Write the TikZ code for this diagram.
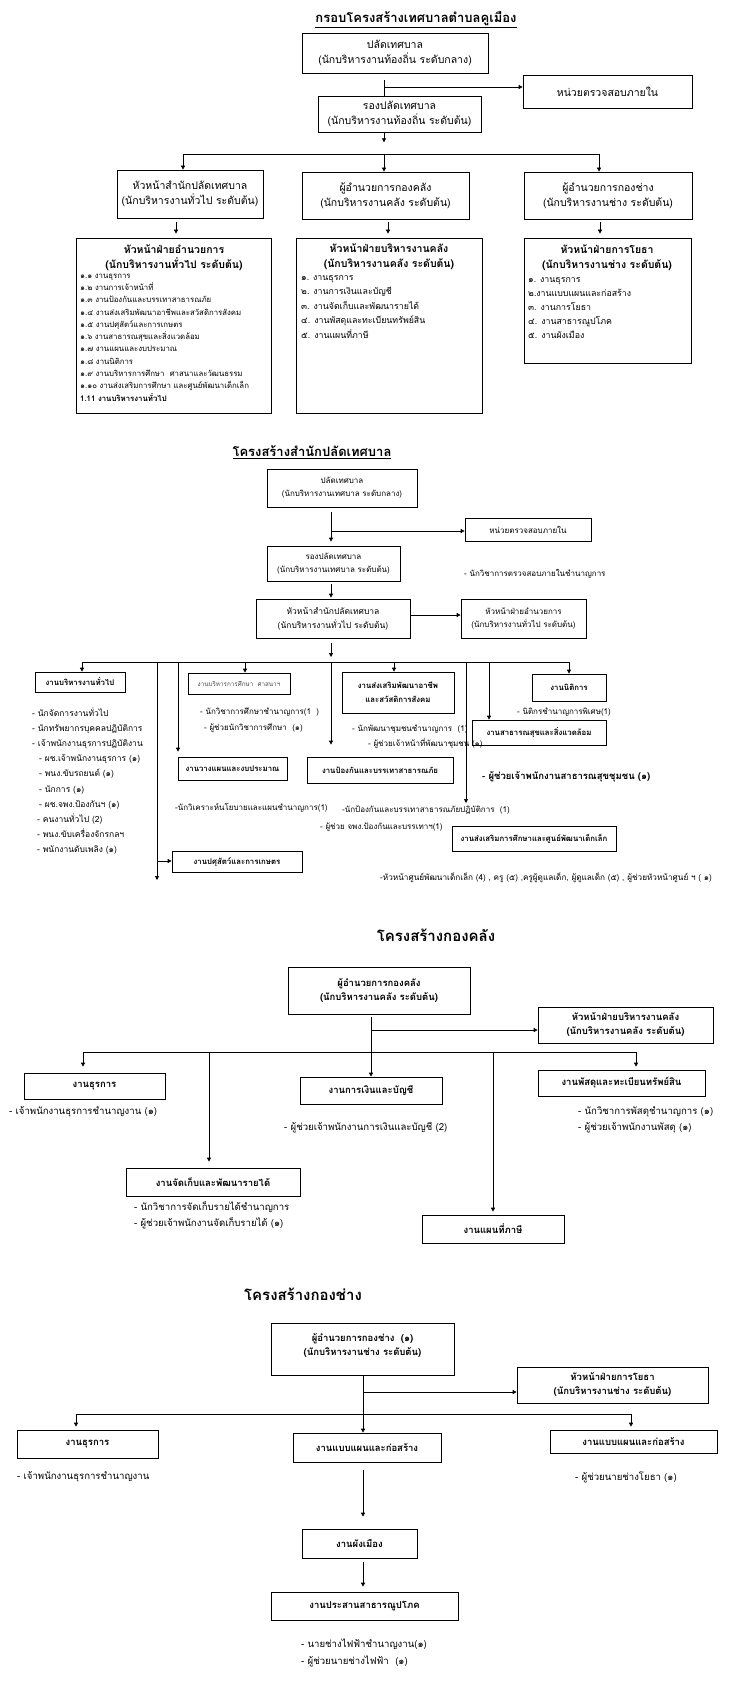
\documentclass[tikz,border=0pt]{standalone}
\usepackage{fontspec}
\setmainfont[Script=Thai]{Loma}
\usetikzlibrary{arrows.meta}
\tikzset{
  link/.style={line width=0.7pt},
  arr/.style={line width=0.7pt, -{Triangle[length=4pt,width=4pt]}},
  orgbox/.style={draw, line width=0.7pt, align=center, inner sep=1pt, font=\fontsize{10.5}{15}\selectfont},
  plainbox/.style={draw, line width=0.7pt},
  smallbox/.style={orgbox, font=\fontsize{8}{13}\selectfont},
  workbox/.style={orgbox, font=\fontsize{7.8}{14}\selectfont\bfseries},
  deptbox/.style={orgbox, font=\fontsize{9.5}{14}\selectfont\bfseries},
  listhead/.style={align=center, inner sep=0pt, font=\fontsize{10.5}{15}\selectfont\bfseries},
  staff/.style={anchor=west, align=left, inner sep=0pt, font=\fontsize{8}{16}\selectfont},
  heading/.style={inner sep=0pt, font=\fontsize{13}{15}\selectfont\bfseries},
}
\begin{document}
\begin{tikzpicture}[x=1pt,y=-1pt]
\useasboundingbox (0,0) rectangle (740,1685);

\node[heading] (titleMain) at (416,20) {\underline{กรอบโครงสร้างเทศบาลตำบลคูเมือง}};
\node[orgbox, minimum width=186, minimum height=40] (palad) at (395,53) {ปลัดเทศบาล\\(นักบริหารงานท้องถิ่น ระดับกลาง)};
\node[orgbox, minimum width=169, minimum height=33] (audit) at (607.5,91.5) {หน่วยตรวจสอบภายใน};
\node[orgbox, minimum width=163, minimum height=36] (rongpalad) at (399.5,114) {รองปลัดเทศบาล\\(นักบริหารงานท้องถิ่น ระดับต้น)};
\node[orgbox, minimum width=146, minimum height=48] (headOffice) at (190,194) {หัวหน้าสำนักปลัดเทศบาล\\(นักบริหารงานทั่วไป ระดับต้น)};
\node[orgbox, minimum width=167, minimum height=47] (headFinance) at (385.5,195.5) {ผู้อำนวยการกองคลัง\\(นักบริหารงานคลัง ระดับต้น)};
\node[orgbox, minimum width=168, minimum height=47] (headWorks) at (608,195.5) {ผู้อำนวยการกองช่าง\\(นักบริหารงานช่าง ระดับต้น)};
\node[plainbox, minimum width=195, minimum height=175] (secAdmin) at (173.5,325.5) {};
\node[plainbox, minimum width=186, minimum height=175] (secFinance) at (389,325.5) {};
\node[plainbox, minimum width=167, minimum height=125] (secWorks) at (607.5,300.5) {};
\node[listhead] (secAdminHead) at (174,257.5) {หัวหน้าฝ่ายอำนวยการ\\(นักบริหารงานทั่วไป ระดับต้น)};
\node[listhead] (secFinanceHead) at (389,257) {หัวหน้าฝ่ายบริหารงานคลัง\\(นักบริหารงานคลัง ระดับต้น)};
\node[listhead] (secWorksHead) at (607,258) {หัวหน้าฝ่ายการโยธา\\(นักบริหารงานช่าง ระดับต้น)};
\node[staff, font=\fontsize{7.8}{12.3}\selectfont] (secAdminList) at (80,337.5) {๑.๑ งานธุรการ\\๑.๒ งานการเจ้าหน้าที่\\๑.๓ งานป้องกันและบรรเทาสาธารณภัย\\๑.๔ งานส่งเสริมพัฒนาอาชีพและสวัสดิการสังคม\\๑.๕ งานปศุสัตว์และการเกษตร\\๑.๖ งานสาธารณสุขและสิ่งแวดล้อม\\๑.๗ งานแผนและงบประมาณ\\๑.๘ งานนิติการ\\๑.๙ งานบริหารการศึกษา\ \ ศาสนาและวัฒนธรรม\\๑.๑๐ งานส่งเสริมการศึกษา และศูนย์พัฒนาเด็กเล็ก\\\textbf{1.11 งานบริหารงานทั่วไป}};
\node[staff, font=\fontsize{8.8}{14.5}\selectfont] (secFinanceList) at (301,307) {๑. งานธุรการ\\๒. งานการเงินและบัญชี\\๓. งานจัดเก็บและพัฒนารายได้\\๔. งานพัสดุและทะเบียนทรัพย์สิน\\๕. งานแผนที่ภาษี};
\node[staff, font=\fontsize{8.8}{14}\selectfont] (secWorksList) at (528,308) {๑. งานธุรการ\\๒.งานแบบแผนและก่อสร้าง\\๓. งานการโยธา\\๔. งานสาธารณูปโภค\\๕. งานผังเมือง};

\coordinate (spineA) at (384,80);
\coordinate (tapAudit) at (384,87);
\coordinate (busA1) at (183,154);
\coordinate (busA2) at (384,154);
\coordinate (busA3) at (599,154);
\coordinate (dropA1) at (176,222);
\coordinate (dropA2) at (388,222);
\coordinate (dropA3) at (600,222);
\draw[link] (spineA) -- (spineA |- rongpalad.north);
\draw[arr] (tapAudit) -- (tapAudit -| audit.west);
\draw[arr] (spineA |- rongpalad.south) -- ++(0,10);
\draw[link] (busA1) -- (busA3);
\draw[arr] (busA1) -- (busA1 |- headOffice.north);
\draw[arr] (busA2) -- (busA2 |- headFinance.north);
\draw[arr] (busA3) -- (busA3 |- headWorks.north);
\draw[arr, shorten >=4pt] (dropA1) -- (dropA1 |- secAdmin.north);
\draw[arr, shorten >=4pt] (dropA2) -- (dropA2 |- secFinance.north);
\draw[arr, shorten >=4pt] (dropA3) -- (dropA3 |- secWorks.north);

\node[heading] (titleOffice) at (312,452) {\underline{โครงสร้างสำนักปลัดเทศบาล}};
\node[smallbox, minimum width=150, minimum height=38] (paladB) at (342,488) {ปลัดเทศบาล\\(นักบริหารงานเทศบาล ระดับกลาง)};
\node[smallbox, minimum width=126, minimum height=23] (auditB) at (528,529.5) {หน่วยตรวจสอบภายใน};
\node[smallbox, minimum width=133, minimum height=35] (rongpaladB) at (333.5,563.5) {รองปลัดเทศบาล\\(นักบริหารงานเทศบาล ระดับต้น)};
\node[staff] (auditStaff) at (464,574) {- นักวิชาการตรวจสอบภายในชำนาญการ};
\node[smallbox, font=\fontsize{8.5}{14}\selectfont, minimum width=154, minimum height=39] (headOfficeB) at (333,618.5) {หัวหน้าสำนักปลัดเทศบาล\\(นักบริหารงานทั่วไป ระดับต้น)};
\node[smallbox, minimum width=125, minimum height=39] (headAdminB) at (523.5,618.5) {หัวหน้าฝ่ายอำนวยการ\\(นักบริหารงานทั่วไป ระดับต้น)};
\node[workbox, minimum width=90, minimum height=20] (genWork) at (80,682) {งานบริหารงานทั่วไป};
\node[smallbox, font=\fontsize{6.3}{8}\selectfont, text=black!70, minimum width=102, minimum height=21] (eduAdmin) at (239,683.5) {งานบริหารการศึกษา\ \ ศาสนาฯ};
\node[workbox, minimum width=112, minimum height=41] (welfare) at (398,692.5) {งานส่งเสริมพัฒนาอาชีพ\\และสวัสดิการสังคม};
\node[workbox, minimum width=74, minimum height=27] (legal) at (569,687.5) {งานนิติการ};
\node[workbox, minimum width=134, minimum height=25] (health) at (539,732.5) {งานสาธารณสุขและสิ่งแวดล้อม};
\node[workbox, minimum width=109, minimum height=23] (planning) at (232.5,768.5) {งานวางแผนและงบประมาณ};
\node[workbox, minimum width=146, minimum height=26] (disaster) at (380,770) {งานป้องกันและบรรเทาสาธารณภัย};
\node[workbox, minimum width=164, minimum height=25] (childEdu) at (534,838.5) {งานส่งเสริมการศึกษาและศูนย์พัฒนาเด็กเล็ก};
\node[workbox, minimum width=130, minimum height=21] (livestock) at (237,862) {งานปศุสัตว์และการเกษตร};
\node[staff, font=\fontsize{8.5}{15.2}\selectfont] (genStaff) at (32,781) {- นักจัดการงานทั่วไป\\- นักทรัพยากรบุคคลปฏิบัติการ\\- เจ้าพนักงานธุรการปฏิบัติงาน\\\hspace*{7pt}- ผช.เจ้าพนักงานธุรการ (๑)\\\hspace*{7pt}- พนง.ขับรถยนต์ (๑)\\\hspace*{7pt}- นักการ (๑)\\\hspace*{7pt}- ผช.จพง.ป้องกันฯ (๑)\\\hspace*{5pt}- คนงานทั่วไป (2)\\\hspace*{5pt}- พนง.ขับเครื่องจักรกลฯ\\\hspace*{5pt}- พนักงานดับเพลิง (๑)};
\node[staff] (eduStaff) at (200,720) {- นักวิชาการศึกษาชำนาญการ(1\ \ )\\\hspace*{4pt}- ผู้ช่วยนักวิชาการศึกษา\ \ (๑)};
\node[staff, font=\fontsize{8}{14.5}\selectfont] (welfareStaff) at (352,737) {- นักพัฒนาชุมชนชำนาญการ\ \ (1)\\\hspace*{16pt}- ผู้ช่วยเจ้าหน้าที่พัฒนาชุมชน (๑)};
\node[staff] (legalStaff) at (517,712) {- นิติกรชำนาญการพิเศษ(1)};
\node[staff, font=\fontsize{9.5}{12}\selectfont\bfseries] (healthStaff) at (482,777) {- ผู้ช่วยเจ้าพนักงานสาธารณสุขชุมชน (๑)};
\node[staff] (planStaff) at (175,808) {-นักวิเคราะห์นโยบายและแผนชำนาญการ(1)};
\node[staff] (disasterStaff) at (342,810) {-นักป้องกันและบรรเทาสาธารณภัยปฏิบัติการ\ \ (1)};
\node[staff] (disasterAide) at (320,827) {- ผู้ช่วย จพง.ป้องกันและบรรเทาฯ(1)};
\node[staff, font=\fontsize{8.2}{16}\selectfont] (childStaff) at (380,878) {-หัวหน้าศูนย์พัฒนาเด็กเล็ก (4) , ครู (๕) ,ครูผู้ดูแลเด็ก, ผู้ดูแลเด็ก (๕) , ผู้ช่วยหัวหน้าศูนย์ ฯ ( ๑)};

\coordinate (spineB) at (331,512);
\coordinate (tapAuditB) at (331,531);
\coordinate (busB0) at (82,662);
\coordinate (busB1) at (157,662);
\coordinate (busB2) at (178,662);
\coordinate (busB3) at (245,662);
\coordinate (busB4) at (331,662);
\coordinate (busB5) at (394,662);
\coordinate (busB6) at (466,662);
\coordinate (busB7) at (489,662);
\coordinate (busB8) at (569,662);
\coordinate (tapLivestock) at (157,861);
\coordinate (endB1) at (157,880);
\coordinate (endB6) at (466,803);
\draw[arr, shorten >=4pt] (spineB) -- (spineB |- rongpaladB.north);
\draw[arr] (tapAuditB) -- (tapAuditB -| auditB.west);
\draw[arr, shorten <=3pt, shorten >=1pt] (spineB |- rongpaladB.south) -- (spineB |- headOfficeB.north);
\draw[arr] (headOfficeB.east |- 0,615) -- (headAdminB.west |- 0,615);
\draw[arr, shorten <=5pt, shorten >=5pt] (spineB |- headOfficeB.south) -- (busB4);
\draw[link] (busB0) -- (busB8);
\draw[arr] (busB0) -- (busB0 |- genWork.north);
\draw[arr] (busB1) -- (endB1);
\draw[arr] (tapLivestock) -- (tapLivestock -| livestock.west);
\draw[arr, shorten >=5pt] (busB2) -- (busB2 |- planning.north);
\draw[arr] (busB3) -- (busB3 |- eduAdmin.north);
\draw[arr, shorten >=12pt] (busB4) -- (busB4 |- disaster.north);
\draw[arr] (busB5) -- (busB5 |- welfare.north);
\draw[arr] (busB6) -- (endB6);
\draw[arr] (busB7) -- (busB7 |- health.north);
\draw[arr] (busB8) -- (busB8 |- legal.north);

\node[heading, font=\fontsize{15}{17}\selectfont\bfseries] (titleFinance) at (436,935) {โครงสร้างกองคลัง};
\node[deptbox, minimum width=182, minimum height=47] (dirFinance) at (379,990.5) {ผู้อำนวยการกองคลัง\\(นักบริหารงานคลัง ระดับต้น)};
\node[deptbox, minimum width=175, minimum height=36] (finChief) at (625.5,1025) {หัวหน้าฝ่ายบริหารงานคลัง\\(นักบริหารงานคลัง ระดับต้น)};
\node[deptbox, minimum width=141, minimum height=26] (finClerk) at (94.5,1086) {งานธุรการ};
\node[deptbox, minimum width=142, minimum height=27] (finAccount) at (371,1090.5) {งานการเงินและบัญชี};
\node[deptbox, minimum width=167, minimum height=26] (finSupply) at (621.5,1083) {งานพัสดุและทะเบียนทรัพย์สิน};
\node[deptbox, minimum width=174, minimum height=28] (finRevenue) at (213,1182) {งานจัดเก็บและพัฒนารายได้};
\node[deptbox, minimum width=142, minimum height=28] (finTaxMap) at (493,1229) {งานแผนที่ภาษี};
\node[staff, font=\fontsize{9.6}{16}\selectfont] (finClerkStaff) at (9,1112) {- เจ้าพนักงานธุรการชำนาญงาน (๑)};
\node[staff, font=\fontsize{9.6}{16}\selectfont] (finAccountStaff) at (284,1128) {- ผู้ช่วยเจ้าพนักงานการเงินและบัญชี (2)};
\node[staff, font=\fontsize{9.6}{16}\selectfont] (finSupplyStaff) at (578,1120) {- นักวิชาการพัสดุชำนาญการ (๑)\\- ผู้ช่วยเจ้าพนักงานพัสดุ (๑)};
\node[staff, font=\fontsize{9.6}{16}\selectfont] (finRevenueStaff) at (134,1215) {- นักวิชาการจัดเก็บรายได้ชำนาญการ\\- ผู้ช่วยเจ้าพนักงานจัดเก็บรายได้ (๑)};

\coordinate (spineC) at (371,1017);
\coordinate (tapChief) at (371,1030);
\coordinate (busC1) at (83,1052);
\coordinate (busC2) at (209,1052);
\coordinate (busC3) at (371,1052);
\coordinate (busC4) at (493,1052);
\coordinate (busC5) at (636,1052);
\draw[arr] (spineC) -- (spineC |- finAccount.north);
\draw[arr] (tapChief) -- (tapChief -| finChief.west);
\draw[link] (busC1) -- (busC5);
\draw[arr, shorten >=6pt] (busC1) -- (busC1 |- finClerk.north);
\draw[arr, shorten >=6pt] (busC2) -- (busC2 |- finRevenue.north);
\draw[arr, shorten >=3pt] (busC4) -- (busC4 |- finTaxMap.north);
\draw[arr, shorten >=3pt] (busC5) -- (busC5 |- finSupply.north);

\node[heading, font=\fontsize{15}{17}\selectfont\bfseries] (titleWorks) at (303,1294) {โครงสร้างกองช่าง};
\node[deptbox, minimum width=183, minimum height=52, text depth=9pt] (dirWorks) at (362.5,1349) {ผู้อำนวยการกองช่าง\ \ (๑)\\(นักบริหารงานช่าง ระดับต้น)};
\node[deptbox, minimum width=191, minimum height=36] (civilChief) at (612.5,1385) {หัวหน้าฝ่ายการโยธา\\(นักบริหารงานช่าง ระดับต้น)};
\node[deptbox, minimum width=141, minimum height=28] (worksClerk) at (87.5,1444) {งานธุรการ};
\node[deptbox, minimum width=148, minimum height=29] (designMain) at (367,1447.5) {งานแบบแผนและก่อสร้าง};
\node[deptbox, minimum width=167, minimum height=23] (designSide) at (633.5,1441.5) {งานแบบแผนและก่อสร้าง};
\node[deptbox, minimum width=115, minimum height=29] (townPlan) at (359.5,1543.5) {งานผังเมือง};
\node[deptbox, minimum width=187, minimum height=28] (utility) at (364.5,1606) {งานประสานสาธารณูปโภค};
\node[staff, font=\fontsize{9.6}{16}\selectfont] (worksClerkStaff) at (17,1477) {- เจ้าพนักงานธุรการชำนาญงาน};
\node[staff, font=\fontsize{9.6}{16}\selectfont] (designSideStaff) at (575,1477) {- ผู้ช่วยนายช่างโยธา (๑)};
\node[staff, font=\fontsize{9.6}{17}\selectfont] (utilityStaff) at (301,1652.5) {- นายช่างไฟฟ้าชำนาญงาน(๑)\\- ผู้ช่วยนายช่างไฟฟ้า\ \ (๑)};

\coordinate (spineD) at (363,1375);
\coordinate (tapCivil) at (363,1392);
\coordinate (busD1) at (76,1414);
\coordinate (busD3) at (631,1414);
\draw[arr] (spineD) -- (spineD |- designMain.north);
\draw[arr] (tapCivil) -- (tapCivil -| civilChief.west);
\draw[link] (busD1) -- (busD3);
\draw[arr, shorten >=3pt] (busD1) -- (busD1 |- worksClerk.north);
\draw[arr, shorten >=3pt] (busD3) -- (busD3 |- designSide.north);
\draw[arr, shorten <=8pt, shorten >=12pt] (spineD |- designMain.south) -- (spineD |- townPlan.north);
\draw[arr, shorten <=4pt, shorten >=5pt] (spineD |- townPlan.south) -- (spineD |- utility.north);
\end{tikzpicture}
\end{document}
